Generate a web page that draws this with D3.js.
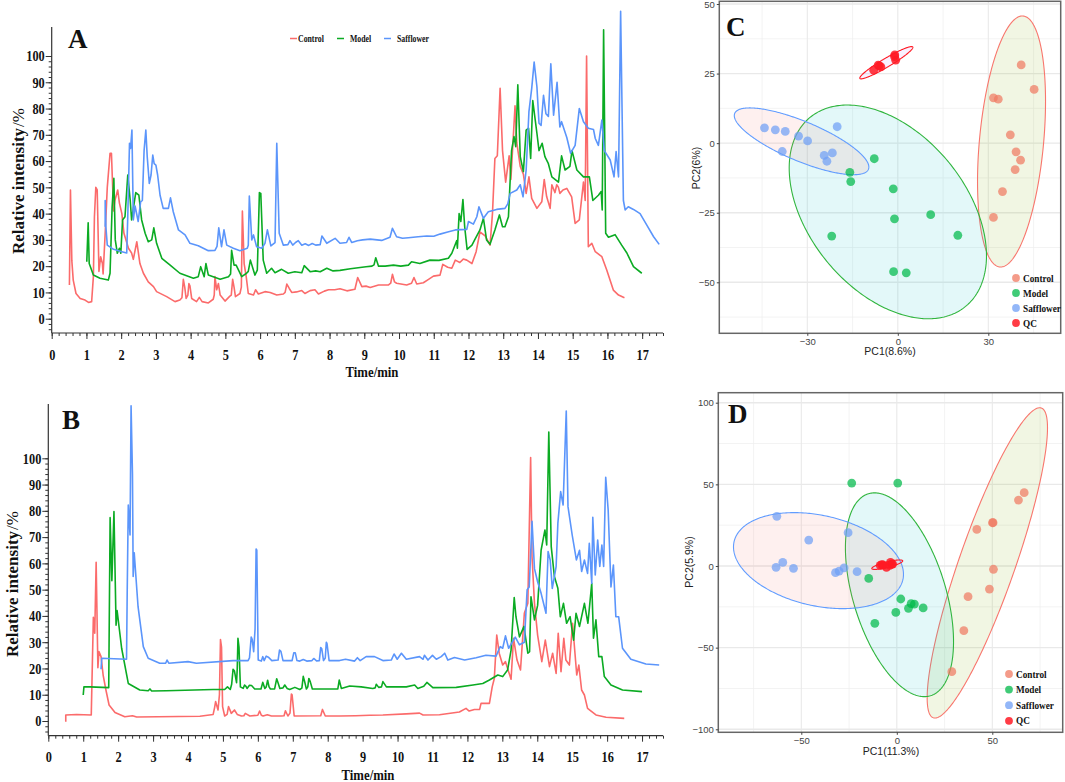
<!DOCTYPE html>
<html>
<head>
<meta charset="utf-8">
<script src="https://cdn.jsdelivr.net/npm/d3@7"></script>
<style>
  html, body { margin: 0; padding: 0; background: #fff; }
  svg { display: block; }
  .serif { font-family: "Liberation Serif", serif; font-weight: bold; fill: #111; }
  .sans { font-family: "Liberation Sans", sans-serif; }
</style>
</head>
<body>
<svg id="chart" width="1065" height="782"></svg>
<script>
// ---- chromatogram data, [time, relative intensity]
const aControl = [[.51,12.8],[.54,49],[.58,22],[.62,14.7],[.7,9.6],[.82,7.7],[.96,7.1],[1.06,6.2],[1.15,6.5],[1.2,16],[1.23,38.8],[1.27,50],[1.31,49],[1.36,18],[1.41,23.6],[1.46,21],[1.48,17],[1.54,32.5],[1.6,50],[1.68,63],[1.72,63],[1.78,41],[1.82,45],[1.9,49],[1.95,44],[2.02,40],[2.08,32.5],[2.16,29],[2.21,26.8],[2.3,25],[2.35,22.6],[2.45,29.3],[2.54,21],[2.64,17.3],[2.78,14],[2.93,12.2],[3.02,10.3],[3.31,8.4],[3.55,6.5],[3.69,7.1],[3.75,8],[3.79,15],[3.83,12],[3.87,7.7],[3.92,9],[3.95,13.4],[3.98,12.5],[4.03,7.7],[4.17,6.5],[4.25,8.1],[4.33,6.5],[4.51,6],[4.65,7.4],[4.68,9],[4.7,16],[4.75,11],[4.8,13.4],[4.85,9],[4.99,6.7],[5.13,8.6],[5.17,9],[5.21,15],[5.25,12],[5.29,8.4],[5.42,9.6],[5.46,12],[5.49,41],[5.54,21],[5.6,16],[5.66,9.6],[5.81,9],[5.87,11],[5.95,9.4],[6.14,10.3],[6.29,10],[6.48,9],[6.67,9.4],[6.72,10],[6.77,13.2],[6.84,11.5],[6.91,10],[7.05,10.2],[7.2,10.7],[7.29,9.6],[7.44,10.7],[7.58,11],[7.68,9.4],[7.85,10.5],[7.97,11],[8.15,11],[8.3,11.4],[8.5,10.6],[8.73,11.2],[8.81,15.7],[8.93,12.2],[9.05,12.4],[9.17,11.9],[9.41,12.8],[9.69,12.8],[9.76,13.5],[9.81,16.9],[9.87,14],[9.93,13.5],[10.22,12.8],[10.36,13.5],[10.43,15.7],[10.51,13.2],[10.7,13.7],[10.85,15],[10.99,16.2],[11.18,16.6],[11.26,20.7],[11.4,19.6],[11.52,19.2],[11.62,22.3],[11.75,21.4],[11.85,22.7],[11.95,22.3],[12.1,21],[12.22,25.5],[12.33,33],[12.48,31.5],[12.62,28],[12.69,40],[12.76,61],[12.83,62],[12.91,87.7],[12.98,64],[13.07,52],[13.17,62],[13.22,53],[13.34,81],[13.39,67],[13.49,58],[13.58,55],[13.66,47.7],[13.74,54],[13.82,45.8],[13.97,42],[14.11,44.5],[14.18,53],[14.25,46.5],[14.35,42],[14.4,51],[14.49,48],[14.54,51],[14.59,50],[14.63,47.7],[14.72,49],[14.83,49.6],[14.97,46.4],[15.07,36.3],[15.19,37.6],[15.31,52],[15.36,45],[15.4,100],[15.45,27.4],[15.55,28.7],[15.65,25.5],[15.84,23.6],[15.98,18.5],[16.17,10.9],[16.32,9],[16.49,8]];
const aModel = [[1.01,21.7],[1.05,36.5],[1.08,21],[1.2,16.6],[1.39,15.4],[1.63,14.7],[1.68,17.3],[1.74,42.6],[1.79,53.4],[1.83,30],[1.89,24.9],[1.95,26.8],[1.99,24.9],[2.04,37.6],[2.11,38.8],[2.19,54.7],[2.26,45.2],[2.3,37.6],[2.42,48],[2.51,47],[2.59,37.6],[2.69,32.5],[2.78,29.3],[2.88,30],[2.94,34.6],[3.02,28.7],[3.17,23],[3.41,20.4],[3.69,17.3],[4.08,15.4],[4.22,16],[4.29,19.8],[4.39,16],[4.44,21],[4.51,16.6],[4.85,15],[5.09,16],[5.15,17],[5.18,26],[5.25,20.4],[5.31,20.4],[5.47,16],[5.61,17.3],[5.66,18],[5.72,22.3],[5.85,16.6],[5.92,18.5],[5.98,48],[6.02,47.7],[6.09,22.3],[6.19,17.3],[6.33,19.2],[6.43,17.5],[6.62,18.8],[6.81,17.3],[7,17.9],[7.2,17.5],[7.27,20.2],[7.44,17.9],[7.6,18.2],[7.73,17.9],[7.92,19.2],[8.1,18.2],[8.3,18.4],[8.6,19],[8.88,19.5],[9.05,19.8],[9.22,20],[9.28,20.5],[9.33,23.2],[9.41,20],[9.6,20],[9.84,20.4],[10.05,20],[10.27,20.4],[10.36,21.7],[10.6,21],[10.89,22.3],[11.15,22.2],[11.42,23],[11.52,24.9],[11.66,29.7],[11.68,26.8],[11.73,40],[11.78,37],[11.84,45.4],[11.89,35],[11.96,26.4],[12.1,28],[12.2,30.6],[12.33,33.8],[12.43,38.2],[12.52,30],[12.62,28.3],[12.76,33.8],[12.89,39.5],[12.98,35],[13.05,35],[13.15,38.8],[13.24,64],[13.31,69.3],[13.36,65.5],[13.42,89],[13.49,61.7],[13.58,56],[13.66,71.8],[13.73,72.5],[13.79,61],[13.85,83],[13.97,70.6],[14.03,64],[14.12,66.8],[14.2,61.7],[14.3,59],[14.4,54],[14.59,52],[14.68,62],[14.78,56.6],[14.92,58],[14.98,64],[15.12,56.6],[15.31,54],[15.48,54],[15.58,45],[15.74,47],[15.82,48.4],[15.85,41.4],[15.89,110],[15.95,32.5],[16.03,31],[16.22,32],[16.41,28],[16.56,25],[16.75,19.8],[16.99,17.3]];
const aSafflower = [[1.54,35],[1.54,45],[1.56,35],[1.6,28],[1.78,26.4],[2.02,25.5],[2.16,25],[2.19,38.8],[2.24,66.8],[2.27,64.8],[2.31,71.8],[2.35,37.6],[2.4,42.9],[2.49,37],[2.56,44.5],[2.61,45],[2.66,64],[2.71,71.8],[2.75,61.7],[2.81,51.5],[2.86,54.7],[2.91,62.3],[2.95,59],[3,58.5],[3.05,54.7],[3.12,47],[3.21,42],[3.36,42],[3.42,46],[3.5,40.7],[3.65,33.8],[3.84,31.9],[3.98,28.7],[4.22,27.8],[4.51,25.9],[4.7,26],[4.76,27.5],[4.81,34.6],[4.89,27.4],[4.96,33.8],[5.04,28],[5.23,26.8],[5.42,25.9],[5.63,26.8],[5.66,28],[5.69,46.7],[5.76,30],[5.81,31.9],[5.9,27.4],[6.05,26.8],[6.14,28.7],[6.21,33.8],[6.31,27.7],[6.43,29],[6.48,66.8],[6.55,32.5],[6.67,28],[6.8,28.2],[6.86,29.7],[6.94,28],[7.02,29],[7.1,29.7],[7.2,28],[7.3,28.5],[7.4,27.9],[7.5,28.6],[7.6,28],[7.73,28.2],[7.78,31.5],[7.92,28.7],[8.16,30.6],[8.3,28.7],[8.49,29],[8.56,31],[8.64,29],[8.8,29.7],[8.95,30],[9.17,30.3],[9.5,29.8],[9.74,31],[9.81,34.4],[9.93,31.2],[10.1,30.6],[10.27,30.8],[10.55,31.2],[10.8,31.5],[11,31.4],[11.18,32.2],[11.4,33],[11.62,33.8],[11.95,34],[12,37],[12.14,36],[12.24,38.8],[12.3,42.6],[12.43,38.2],[12.57,40.7],[12.81,41.6],[13.05,42],[13.13,43.7],[13.2,47.7],[13.39,49],[13.49,51],[13.57,46.4],[13.66,56.6],[13.74,78.8],[13.82,87.7],[13.89,97.7],[13.97,88.3],[14.03,74.4],[14.09,73.6],[14.16,85],[14.23,78],[14.3,77],[14.37,97],[14.45,77.5],[14.55,90],[14.63,73],[14.68,75],[14.83,69],[14.94,63],[15.07,66],[15.19,80],[15.31,75],[15.45,72.5],[15.6,72],[15.65,68.6],[15.74,66],[15.84,75.6],[15.91,64],[16.08,60.4],[16.19,54],[16.25,63.6],[16.32,54],[16.38,117],[16.46,45],[16.51,41.4],[16.6,42.6],[16.75,41.6],[16.94,40],[17.13,35.7],[17.33,31.2],[17.49,28.3]];

const bControl = [[.5,-.3],[.5,2.3],[.81,2.5],[1.23,2.3],[1.29,39.5],[1.33,33.4],[1.37,60.4],[1.42,20.3],[1.45,26.4],[1.51,24.5],[1.57,17.5],[1.65,11.8],[1.74,6.1],[1.91,3.2],[2.19,1.6],[2.41,2],[2.53,1.5],[4.34,1.8],[4.72,2.5],[4.76,5],[4.79,7.4],[4.86,4.2],[4.9,10],[4.93,31],[4.96,28],[4.99,5.5],[5.05,1.9],[5.12,2.5],[5.16,5.5],[5.24,2.9],[5.33,4.2],[5.41,2.5],[5.53,1.9],[5.6,2],[5.64,2.9],[5.77,1.9],[6,2.2],[6.05,3.8],[6.1,2.2],[6.15,1.9],[6.27,2.4],[6.39,1.9],[6.67,1.9],[6.75,2],[6.79,3.9],[6.86,1.9],[6.92,3],[6.96,10.3],[6.98,10],[7.04,1.9],[7.8,2],[7.85,4.4],[7.93,1.9],[8.34,1.9],[8.8,2],[9.2,2.2],[9.58,2.3],[10.25,2.7],[10.63,3],[10.73,2.3],[11.2,2.4],[11.77,3.4],[11.96,4.8],[12.05,3.8],[12.2,4.4],[12.35,4.4],[12.39,6.7],[12.63,6.7],[12.71,13],[12.77,16.2],[12.84,32.7],[12.91,25.8],[13.01,21.3],[13.09,22.6],[13.15,20],[13.25,15.9],[13.32,31.5],[13.42,23.2],[13.52,19.4],[13.63,41],[13.73,44.8],[13.81,100.3],[13.85,62.6],[13.92,44.8],[14.01,32.7],[14.13,22.6],[14.23,30.8],[14.35,20.7],[14.44,25.8],[14.54,18.1],[14.6,33.4],[14.68,18.8],[14.76,31.5],[14.82,23.2],[14.92,21.3],[15.01,37.2],[15.13,17.5],[15.19,21.3],[15.27,11.8],[15.35,9.9],[15.44,4.8],[15.68,2.3],[15.97,1.4],[16.49,1]];
const bModel = [[1,9.9],[1.02,13],[1.19,13],[1.73,12.7],[1.77,77.4],[1.82,53.4],[1.88,79.7],[1.94,36.5],[1.97,42],[2.1,27.7],[2.29,14.3],[2.62,11.8],[2.86,11.5],[2.91,12.2],[2.96,11.4],[3.38,11.5],[4.72,12],[5.05,12],[5.13,13],[5.21,12],[5.25,14],[5.29,19.7],[5.33,19],[5.39,14.6],[5.41,20],[5.43,31.5],[5.46,28],[5.5,13],[5.58,12.4],[5.62,13.7],[5.66,13.2],[5.69,12.4],[5.76,13.6],[5.82,13.5],[5.91,12.2],[6.09,12.2],[6.14,14.7],[6.2,12.4],[6.24,13],[6.28,15.5],[6.32,13],[6.36,12.2],[6.48,12.2],[6.54,16.1],[6.58,14.5],[6.63,12.4],[6.72,12.6],[6.77,13.7],[6.84,12.4],[6.91,12],[7.06,12.8],[7.2,12],[7.26,12.5],[7.3,17],[7.34,15],[7.39,12.2],[7.43,13],[7.46,16.2],[7.5,15],[7.56,12.2],[8.29,12.2],[8.33,15.6],[8.36,14],[8.39,12.4],[8.63,13.3],[8.96,13],[9.29,12.4],[9.36,12.6],[9.39,14],[9.46,12.8],[9.54,13],[9.58,15],[9.68,13],[10.25,13],[10.49,13.7],[10.58,12.4],[10.75,13.2],[10.84,14.7],[11.01,12.7],[11.68,12.8],[12.16,13.7],[12.44,14.3],[12.63,15.6],[12.87,17.5],[13.01,16.9],[13.15,19.4],[13.25,27],[13.34,47],[13.39,39.7],[13.49,32],[13.62,36],[13.73,25.8],[13.78,26.4],[13.82,47.3],[13.92,38.5],[14.01,44],[14.11,65],[14.18,70],[14.22,72.7],[14.27,67],[14.33,110],[14.4,66.4],[14.49,55],[14.59,50.5],[14.66,39.7],[14.75,44.8],[14.84,37.2],[14.94,39.7],[15.04,30.8],[15.11,41],[15.21,36],[15.35,44.8],[15.45,37.2],[15.56,52.4],[15.61,31.5],[15.68,38.5],[15.76,24.5],[15.85,24.5],[15.92,16.9],[16.11,13.7],[16.44,11.8],[17,11.2]];
const bSafflower = [[1.51,19.7],[1.53,23.9],[2.24,23.5],[2.26,50],[2.29,82.2],[2.34,70.8],[2.37,120],[2.41,94],[2.43,55],[2.46,64],[2.57,43.5],[2.72,28.3],[2.86,23.9],[3.19,22],[3.36,22],[3.4,23.2],[3.45,22],[4,22.6],[4.24,22],[5.29,23],[5.72,23],[5.76,24],[5.81,32],[5.84,31],[5.88,26.4],[5.92,35],[5.95,65.5],[5.97,65],[6.01,23.2],[6.1,22.8],[6.14,24.5],[6.18,23],[6.24,24.7],[6.3,24.3],[6.4,23],[6.58,23.2],[6.62,27],[6.66,26.5],[6.72,23],[6.98,23],[7.03,26],[7.07,26],[7.12,23],[7.2,22.8],[7.3,23.4],[7.4,22.8],[7.55,23],[7.6,23.8],[7.68,22.9],[7.76,23],[7.8,28],[7.83,27.5],[7.88,23],[7.93,24],[7.96,30],[7.98,29.5],[8.04,23],[8.34,23],[8.51,23.5],[8.77,22.8],[8.85,24.1],[8.93,23],[9.1,24.5],[9.34,24.5],[9.58,23],[9.82,23.2],[9.9,25.5],[9.99,23.5],[10.11,25.8],[10.25,23.5],[10.63,24.5],[10.73,23.5],[10.77,25],[10.87,23.2],[11,25],[11.11,23.5],[11.25,24.5],[11.35,25.8],[11.44,23.2],[11.63,24.2],[11.92,23.2],[12.25,24.1],[12.53,25],[12.82,24.7],[12.94,28.3],[13.01,27.7],[13.09,32.4],[13.18,27.7],[13.37,31.9],[13.49,29],[13.63,30],[13.71,50],[13.77,51],[13.85,76],[13.92,58],[14.01,53],[14.11,48.6],[14.25,41],[14.31,64.5],[14.37,61.3],[14.43,50.5],[14.54,58.8],[14.59,75.3],[14.67,87.3],[14.74,82.2],[14.83,118],[14.88,81.6],[15,70.8],[15.12,61.3],[15.21,65],[15.27,56.9],[15.35,61.3],[15.44,56.2],[15.49,67.6],[15.56,52.4],[15.59,77.5],[15.66,55.6],[15.73,68.9],[15.79,58.8],[15.85,67],[15.9,58.8],[15.96,92.8],[16.03,80.3],[16.11,51],[16.18,59.4],[16.25,39.7],[16.33,39.7],[16.44,27.7],[16.68,23.5],[17.11,21.7],[17.49,21.3]];

// ---- PCA scores, [PC1, PC2]
const cControl = [[40.9,28.1],[45.2,19.3],[31.7,16.3],[33.3,15.8],[37.3,3],[39.2,-3.1],[40.7,-6.1],[38.9,-9.5],[34.7,-17.4],[31.7,-26.7]];
const cModel = [[-7.8,-5.6],[-15.9,-10.5],[-15.6,-13.8],[-1.5,-16.4],[-1.1,-27.2],[10.9,-25.7],[19.9,-33.1],[-21.9,-33.4],[-1.4,-46.2],[2.8,-46.6]];
const cSafflower = [[-44.2,5.5],[-40.6,4.8],[-37.3,4.2],[-32.9,2.5],[-29.9,.8],[-20.1,5.9],[-38.3,-3],[-24.4,-4.4],[-21.7,-3.5],[-23.5,-6.5]];
const cQC = [[-8,26.2],[-6.5,28],[-5.6,27.4],[-6.1,27.8],[-1.1,31.1],[-.7,29.8],[-1,31.7]];

const dControl = [[66.7,44.9],[63.7,40.4],[41.9,22.4],[50.1,26.5],[50.4,26.5],[50.6,-2],[48.5,-14.1],[37.3,-18.8],[35.1,-39.6],[28.8,-64.7]];
const dModel = [[-23.6,50.8],[.5,50.8],[-14.7,-7.6],[2.1,-20.2],[7.5,-23.1],[9.2,-23.3],[13.8,-25.7],[6.1,-25.9],[-.5,-28.4],[-11.5,-35.1]];
const dSafflower = [[-62.8,30.4],[-46.1,15.9],[-25.5,20.4],[-63.2,-.8],[-59.7,2.2],[-54.1,-1.4],[-32.1,-4.1],[-30.2,-3.1],[-27.6,-1.2],[-20.8,-3.5]];
const dQC = [[-8.7,.4],[-7.2,.6],[-5.4,-.8],[-3.3,2.2],[-2.6,1.2],[-3.7,.4],[-7.9,.9],[-2.2,1.2]];

// ellipses: centre x, centre y, half width, half height, correlation
const cEllipses = [[37.7,.6,11.27,45.1,.32],[-3.3,-24.7,32.7,38.4,-.41],[-31.9,.66,22.3,12,-.77],[-3.8,28.9,8.8,5.8,.95]];
const dEllipses = [[47.4,1.9,31.5,95,.87],[1.4,-17.6,28.3,62.4,-.46],[-41,3.3,44.5,29.4,-.285],[-5,.8,8.1,2.9,.8]];

const groups = ['Control', 'Model', 'Safflower', 'QC'];

const lineColors = ['#fb6b6b', '#0bab23', '#5b95fb'];
const ringColors = ['#f8766d', '#30b53e', '#619cff', '#ff1a24'];
const ringFills = ['#7cae00', '#00bfc4', '#f8766d', '#c77cff'];
const dotColors = ['#f07a62', '#00ba4a', '#6f9ff5', '#ff1a24'];

const svg = d3.select('#chart');

// squeeze the serif labels, the figure was scaled narrower than tall
function squeeze(sel, k) {
  sel.each(function () {
    const w = this.getComputedTextLength();
    d3.select(this).attr('textLength', w * k).attr('lengthAdjust', 'spacingAndGlyphs');
  });
}

function drawChrom(o) {
  const g = svg.append('g');
  const x = d3.scaleLinear().domain([0, 17.6]).range([o.left, o.right]);
  const y = d3.scaleLinear().domain([0, 100]).range([o.y0, o.y100]);

  const xMinor = d3.axisBottom(x).tickValues(d3.range(0, 17.61, .2)).tickSize(3).tickFormat('');
  const xMajor = d3.axisBottom(x).tickValues(d3.range(0, 18)).tickSize(6).tickPadding(10).tickFormat(d3.format('d'));
  const yMinor = d3.axisLeft(y).tickValues(d3.range(-4, 101, 2)).tickSize(3).tickFormat('');
  const yMajor = d3.axisLeft(y).tickValues(d3.range(0, 101, 10)).tickSize(6).tickPadding(1);

  [xMinor, xMajor].forEach(ax => {
    g.append('g').attr('transform', `translate(0,${o.bottom})`).call(ax);
  });
  [yMinor, yMajor].forEach(ax => {
    g.append('g').attr('transform', `translate(${o.left},0)`).call(ax);
  });
  g.selectAll('.domain').remove();
  g.selectAll('.tick line').attr('stroke', '#333');
  g.append('line').attr('x1', o.left).attr('x2', o.right).attr('y1', o.bottom).attr('y2', o.bottom).attr('stroke', '#333').attr('stroke-width', 1.2);
  g.append('line').attr('x1', o.left).attr('x2', o.left).attr('y1', o.top).attr('y2', o.bottom).attr('stroke', '#333').attr('stroke-width', 1.2);

  g.selectAll('.tick text').attr('class', 'serif').style('font-size', '15px').style('font-family', '"Liberation Serif", serif').call(squeeze, .82);

  const line = d3.line().x(d => x(d[0])).y(d => y(d[1]));
  o.series.forEach((s, i) => {
    g.append('path').datum(s).attr('d', line).attr('fill', 'none')
      .attr('stroke', lineColors[i]).attr('stroke-width', 1.6).attr('stroke-linejoin', 'round');
  });

  const yLabel = g.append('text').attr('class', 'serif').attr('x', o.labelX).attr('y', o.labelY)
    .attr('transform', `rotate(-90 ${o.labelX} ${o.labelY})`).attr('text-anchor', 'middle')
    .style('font-size', '17px');
  yLabel.append('tspan').text('Relative intensity');
  yLabel.append('tspan').attr('font-weight', 'normal').attr('dx', 1).text('/%');
  g.append('text').attr('class', 'serif').attr('x', o.timeX).attr('y', o.timeY)
    .attr('text-anchor', 'middle').style('font-size', '14.5px').text('Time/min').call(squeeze, .88);
  g.append('text').attr('class', 'serif').attr('x', o.letterX).attr('y', o.letterY)
    .style('font-size', '27px').text(o.letter);
}

function drawPca(o) {
  const g = svg.append('g');
  const x = d3.scaleLinear().domain([o.x0, o.x1]).range([o.px0, o.px1]);
  const y = d3.scaleLinear().domain([o.y0, o.y1]).range([o.py0, o.py1]);

  o.xMinor.forEach(v => g.append('line').attr('x1', x(v)).attr('x2', x(v)).attr('y1', o.top).attr('y2', o.bottom).attr('stroke', '#eeeeee').attr('stroke-width', .7));
  o.yMinor.forEach(v => g.append('line').attr('y1', y(v)).attr('y2', y(v)).attr('x1', o.left).attr('x2', o.right).attr('stroke', '#eeeeee').attr('stroke-width', .7));
  o.xTicks.forEach(v => g.append('line').attr('x1', x(v)).attr('x2', x(v)).attr('y1', o.top).attr('y2', o.bottom).attr('stroke', '#e9e9e9').attr('stroke-width', 1.1));
  o.yTicks.forEach(v => g.append('line').attr('y1', y(v)).attr('y2', y(v)).attr('x1', o.left).attr('x2', o.right).attr('stroke', '#e9e9e9').attr('stroke-width', 1.4));

  const angles = d3.range(0, Math.PI * 2 + .02, .02);
  o.ellipses.forEach((e, i) => {
    const delta = Math.acos(e[4]);
    const path = d3.line()
      .x(t => x(e[0] + e[2] * Math.cos(t)))
      .y(t => y(e[1] + e[3] * Math.cos(t - delta)));
    g.append('path').datum(angles).attr('d', path)
      .attr('fill', ringFills[i]).attr('fill-opacity', .11)
      .attr('stroke', ringColors[i]).attr('stroke-width', 1.1);
  });

  o.points.forEach((pts, i) => {
    g.selectAll(null).data(pts).enter().append('circle')
      .attr('cx', d => x(d[0])).attr('cy', d => y(d[1])).attr('r', 4.4)
      .attr('fill', dotColors[i]).attr('fill-opacity', i === 3 ? .85 : .72);
  });

  g.append('rect').attr('x', o.left).attr('y', o.top).attr('width', o.right - o.left).attr('height', o.bottom - o.top)
    .attr('fill', 'none').attr('stroke', '#666').attr('stroke-width', 1.5);

  const ax = g.append('g').attr('transform', `translate(0,${o.bottom})`)
    .call(d3.axisBottom(x).tickValues(o.xTicks).tickSize(2.5).tickPadding(2));
  const ay = g.append('g').attr('transform', `translate(${o.left},0)`)
    .call(d3.axisLeft(y).tickValues(o.yTicks).tickSize(2.5).tickPadding(2));
  [ax, ay].forEach(a => {
    a.select('.domain').remove();
    a.selectAll('line').attr('stroke', '#444');
    a.selectAll('text').attr('class', 'sans').style('font-size', '9.5px').style('font-family', '"Liberation Sans", sans-serif').attr('fill', '#444');
  });

  g.append('text').attr('class', 'sans').attr('x', o.xLabelX).attr('y', o.xLabelY).attr('text-anchor', 'middle')
    .style('font-size', '10.5px').attr('fill', '#222').text(o.xLabel);
  g.append('text').attr('class', 'sans').attr('x', o.yLabelX).attr('y', o.yLabelY).attr('text-anchor', 'middle')
    .attr('transform', `rotate(-90 ${o.yLabelX} ${o.yLabelY})`)
    .style('font-size', '10.5px').attr('fill', '#222').text(o.yLabel);

  groups.forEach((name, i) => {
    const ly = o.legendY + i * o.legendStep;
    g.append('circle').attr('cx', o.legendX).attr('cy', ly).attr('r', 3.9)
      .attr('fill', dotColors[i]).attr('fill-opacity', i === 3 ? .85 : .75);
    g.append('text').attr('class', 'serif').attr('x', o.legendX + 7).attr('y', ly + 3.5)
      .style('font-size', '10.5px').text(name).call(squeeze, .88);
  });

  g.append('text').attr('class', 'serif').attr('x', o.letterX).attr('y', o.letterY)
    .style('font-size', '27px').text(o.letter);
}

drawChrom({
  letter: 'A', series: [aControl, aModel, aSafflower],
  left: 51.7, right: 663, top: 27, bottom: 333, y0: 318.7, y100: 56,
  labelX: 24, labelY: 181, timeX: 372, timeY: 377, letterX: 68, letterY: 48
});
drawChrom({
  letter: 'B', series: [bControl, bModel, bSafflower],
  left: 48.3, right: 663, top: 404, bottom: 735.7, y0: 721, y100: 458.3,
  labelX: 18, labelY: 584, timeX: 368, timeY: 779.5, letterX: 62, letterY: 429
});

// small legend of panel A
const aLegendX = [290, 337, 384];
const aLegendTextX = [298, 350, 397];
groups.slice(0, 3).forEach((name, i) => {
  svg.append('line').attr('x1', aLegendX[i]).attr('x2', aLegendX[i] + 7).attr('y1', 38.5).attr('y2', 38.5)
    .attr('stroke', lineColors[i]).attr('stroke-width', 1.5);
  svg.append('text').attr('class', 'serif').attr('x', aLegendTextX[i]).attr('y', 41.5)
    .style('font-size', '9.5px').text(name).call(squeeze, .82);
});

drawPca({
  letter: 'C', letterX: 726, letterY: 36,
  points: [cControl, cModel, cSafflower, cQC], ellipses: cEllipses,
  left: 719.3, right: 1060.7, top: 1.3, bottom: 333.3,
  x0: -30, x1: 30, px0: 807.3, px1: 988.3,
  y0: -50, y1: 50, py0: 282.3, py1: 4,
  xTicks: [-30, 0, 30], yTicks: [-50, -25, 0, 25, 50],
  xMinor: [-45, -15, 15, 45], yMinor: [-62.5, -37.5, -12.5, 12.5, 37.5],
  xLabel: 'PC1(8.6%)', xLabelX: 890, xLabelY: 355,
  yLabel: 'PC2(6%)', yLabelX: 700, yLabelY: 168,
  legendX: 1016, legendY: 278, legendStep: 15
});
drawPca({
  letter: 'D', letterX: 728, letterY: 423,
  points: [dControl, dModel, dSafflower, dQC], ellipses: dEllipses,
  left: 718.3, right: 1062.7, top: 392.7, bottom: 732.3,
  x0: -50, x1: 50, px0: 801.3, px1: 992.3,
  y0: -100, y1: 100, py0: 729.3, py1: 402.7,
  xTicks: [-50, 0, 50], yTicks: [-100, -50, 0, 50, 100],
  xMinor: [-75, -25, 25, 75], yMinor: [-75, -25, 25, 75],
  xLabel: 'PC1(11.3%)', xLabelX: 891, xLabelY: 755,
  yLabel: 'PC2(5.9%)', yLabelX: 693, yLabelY: 562,
  legendX: 1009, legendY: 674, legendStep: 15.6
});
</script>
</body>
</html>
